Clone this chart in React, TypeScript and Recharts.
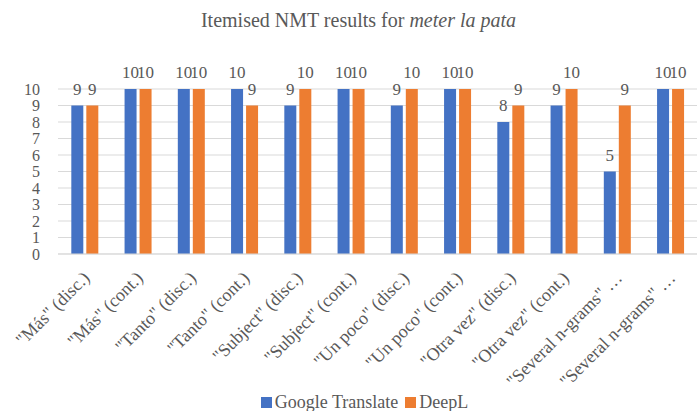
import { BarChart, Bar, XAxis, YAxis, CartesianGrid, LabelList } from 'recharts';

const categories = [
    '"Más" (disc.)',
    '"Más" (cont.)',
    '"Tanto" (disc.)',
    '"Tanto" (cont.)',
    '"Subject" (disc.)',
    '"Subject" (cont.)',
    '"Un poco" (disc.)',
    '"Un poco" (cont.)',
    '"Otra vez" (disc.)',
    '"Otra vez" (cont.)',
    '"Several n-grams" …',
    '"Several n-grams" …',
];

const googleScores = [9, 10, 10, 10, 9, 10, 9, 10, 8, 9, 5, 10];
const deeplScores = [9, 10, 10, 9, 10, 10, 10, 10, 9, 10, 9, 10];

const yTicks = [0, 1, 2, 3, 4, 5, 6, 7, 8, 9, 10];

const series = [
    { key: 'google', name: 'Google Translate', color: '#4472C4' },
    { key: 'deepl', name: 'DeepL', color: '#ED7D31' },
];

const chartData = categories.map((name, i) => ({
    name,
    google: googleScores[i],
    deepl: deeplScores[i],
}));

const FONT = "'Liberation Serif', 'Times New Roman', serif";
const TEXT = '#595959';

const AngledTick = ({ x, y, payload }: any) => (
    <text
        x={0}
        y={0}
        transform={`translate(${x + 6}, ${y + 17}) rotate(-45)`}
        textAnchor="end"
        style={{ fontFamily: FONT, fontSize: 18, fill: TEXT }}
    >
        {payload.value}
    </text>
);

export default function App() {
    return (
        <div style={{ position: 'absolute', left: 0, top: 0, width: 697, height: 411, background: '#fff', fontFamily: FONT }}>
            <style>{`body{margin:0} svg text{font-family:${FONT}}`}</style>
            <div style={{ position: 'absolute', left: 10, top: 9, width: 697, textAlign: 'center', fontSize: 20, color: TEXT }}>
                Itemised NMT results for <i>meter la pata</i>
            </div>
            <BarChart
                width={697}
                height={411}
                data={chartData}
                margin={{ top: 89, right: 0, left: 0, bottom: 0 }}
                barCategoryGap="25%"
                barGap={3}
            >
                <CartesianGrid vertical={false} stroke="#d9d9d9" strokeWidth={1} />
                <XAxis
                    dataKey="name"
                    height={157}
                    interval={0}
                    tickLine={false}
                    axisLine={{ stroke: '#d9d9d9' }}
                    tick={<AngledTick />}
                />
                <YAxis
                    width={58}
                    domain={[0, 10]}
                    ticks={yTicks}
                    interval={0}
                    tickLine={false}
                    axisLine={false}
                    tickMargin={12}
                    tick={{ fontSize: 16, fill: TEXT }}
                />
                {series.map((s) => (
                    <Bar key={s.key} dataKey={s.key} name={s.name} fill={s.color} isAnimationActive={false}>
                        <LabelList
                            dataKey={s.key}
                            position="top"
                            offset={11}
                            style={{ fontSize: 17, fill: TEXT }}
                        />
                    </Bar>
                ))}
            </BarChart>
            <div
                style={{
                    position: 'absolute',
                    left: 16,
                    top: 393,
                    width: 697,
                    display: 'flex',
                    justifyContent: 'center',
                    fontSize: 18,
                    color: TEXT,
                    lineHeight: '18px',
                }}
            >
                {series.map((s, i) => (
                    <span key={s.key} style={{ display: 'flex', alignItems: 'center', marginRight: i < series.length - 1 ? 7 : 0 }}>
                        <span style={{ display: 'inline-block', width: 11, height: 11, background: s.color, marginRight: 3 }} />
                        {s.name}
                    </span>
                ))}
            </div>
        </div>
    );
}
